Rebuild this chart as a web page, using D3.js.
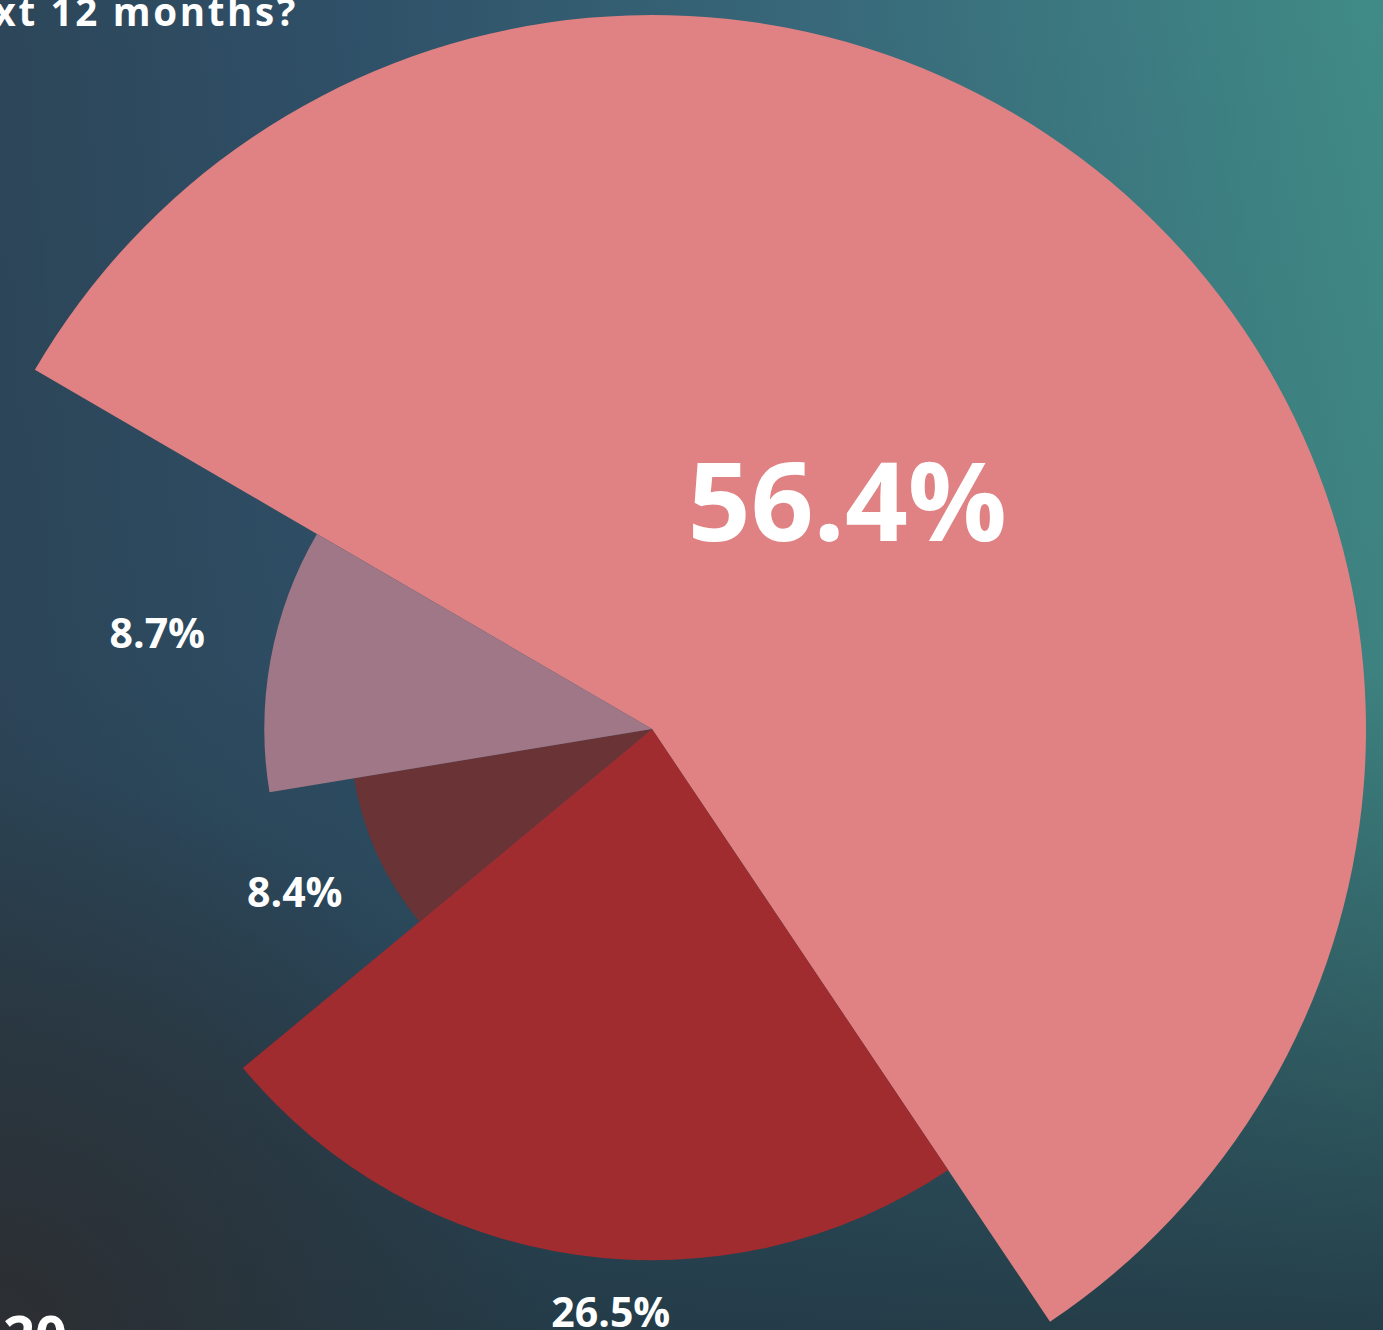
<!DOCTYPE html>
<html>
<head>
<meta charset="utf-8">
<script src="https://cdn.jsdelivr.net/npm/d3@7"></script>
<style>
  html, body { margin: 0; padding: 0; overflow: hidden; background: #2e4b60; }
  svg { display: block; }
</style>
</head>
<body>
<div id="chart"></div>
<script>
// DATA
const categories = ["Increase", "Stay the same", "Decrease", "Don't know"];
const percentLabels = ["56.4%", "26.5%", "8.4%", "8.7%"];
const angleShare = [57.2, 23.4, 8.4, 11.0];   // share of the circle
const radiusValue = [100, 74.4, 42.3, 54.3];  // relative radius of each slice
const sliceColors = ["#e08283", "#a12c2f", "#6a3335", "#a07787"];

// SET DIMENSIONS
const width = 1383;
const height = 1330;
const cx = 652, cy = 729;
const maxR = 714;

const svg = d3.select("#chart")
    .append("svg")
    .attr("width", width)
    .attr("height", height);

// BACKGROUND
const defs = svg.append("defs");

const bgH = defs.append("linearGradient").attr("id", "bgH")
    .attr("x1", 0).attr("y1", 0).attr("x2", 1).attr("y2", 0);
bgH.append("stop").attr("offset", "0%").attr("stop-color", "#2d4659");
bgH.append("stop").attr("offset", "25%").attr("stop-color", "#2f5068");
bgH.append("stop").attr("offset", "60%").attr("stop-color", "#38697a");
bgH.append("stop").attr("offset", "100%").attr("stop-color", "#408b87");

const bgV = defs.append("linearGradient").attr("id", "bgV")
    .attr("x1", 0).attr("y1", 0).attr("x2", 0).attr("y2", 1);
bgV.append("stop").attr("offset", "0%").attr("stop-color", "#243a46").attr("stop-opacity", 0);
bgV.append("stop").attr("offset", "50%").attr("stop-color", "#243a46").attr("stop-opacity", 0.1);
bgV.append("stop").attr("offset", "100%").attr("stop-color", "#233a46").attr("stop-opacity", 0.95);

const bgR = defs.append("radialGradient").attr("id", "bgR")
    .attr("gradientUnits", "userSpaceOnUse")
    .attr("cx", 0).attr("cy", height).attr("r", 560);
bgR.append("stop").attr("offset", "0%").attr("stop-color", "#2c2e32").attr("stop-opacity", 1);
bgR.append("stop").attr("offset", "100%").attr("stop-color", "#2c2e32").attr("stop-opacity", 0);

svg.append("rect").attr("width", width).attr("height", height).attr("fill", "url(#bgH)");
svg.append("rect").attr("width", width).attr("height", height).attr("fill", "url(#bgV)");
svg.append("rect").attr("width", width).attr("height", height).attr("fill", "url(#bgR)");

// TITLE (CROPPED AT THE TOP LEFT) AND PAGE TEXT
svg.append("text")
    .attr("x", 298).attr("y", 26)
    .attr("text-anchor", "end")
    .style("font-family", "'Open Sans', sans-serif")
    .style("font-weight", 700)
    .style("font-size", "38.5px")
    .style("letter-spacing", "2.7px")
    .style("fill", "#ffffff")
    .text("What do you expect over the next 12 months?");

svg.append("text")
    .attr("x", 3).attr("y", 1356)
    .style("font-family", "'Open Sans', sans-serif")
    .style("font-weight", 700)
    .style("font-size", "56px")
    .style("fill", "#ffffff")
    .text("20");

// SCALES
const r = d3.scaleLinear().domain([0, 100]).range([0, maxR]);

const data = categories.map((c, i) => ({
    category: c,
    label: percentLabels[i],
    share: angleShare[i],
    radius: radiusValue[i],
    color: sliceColors[i]
}));

const startDeg = -59.8;
const pie = d3.pie()
    .sort(null)
    .value(d => d.share)
    .startAngle(startDeg * Math.PI / 180)
    .endAngle((startDeg + 360) * Math.PI / 180);

const arcs = pie(data);

const arc = d3.arc()
    .innerRadius(0)
    .outerRadius(d => r(d.data.radius));

const g = svg.append("g").attr("transform", `translate(${cx}, ${cy})`);

g.selectAll("path.slice")
    .data(arcs)
    .join("path")
    .attr("class", "slice")
    .attr("d", arc)
    .style("fill", d => d.data.color);

// LABELS: radius factor and angle nudge (degrees) per slice
const labelLayout = [
    { f: 0.42, nudge: -2.5, size: 110 },
    { f: 1.10, nudge: -4.2, size: 41 },
    { f: 1.30, nudge: 0, size: 41 },
    { f: 1.30, nudge: 0.6, size: 41 }
];

g.selectAll("text.lbl")
    .data(arcs)
    .join("text")
    .attr("class", "lbl")
    .attr("transform", (d, i) => {
        const a = (d.startAngle + d.endAngle) / 2 + labelLayout[i].nudge * Math.PI / 180;
        const rr = r(d.data.radius) * labelLayout[i].f;
        return `translate(${Math.sin(a) * rr}, ${-Math.cos(a) * rr})`;
    })
    .attr("text-anchor", "middle")
    .attr("dy", "0.36em")
    .style("font-family", "'Open Sans', sans-serif")
    .style("font-weight", 700)
    .style("font-size", (d, i) => labelLayout[i].size + "px")
    .style("fill", "#ffffff")
    .text(d => d.data.label);
</script>
</body>
</html>
